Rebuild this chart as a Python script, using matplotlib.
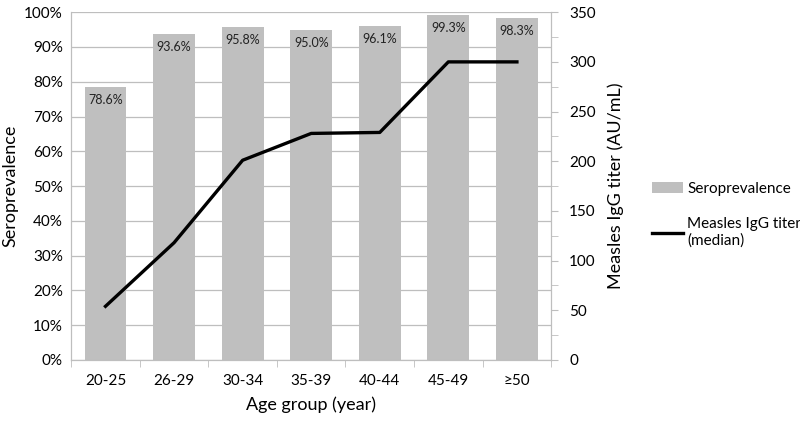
import matplotlib.pyplot as plt
import numpy as np
from matplotlib.ticker import PercentFormatter, MultipleLocator

plt.rcParams['font.family'] = ['Lato', 'DejaVu Sans']

age_groups = ["20-25", "26-29", "30-34", "35-39", "40-44", "45-49", "≥50"]
seroprevalence = [78.6, 93.6, 95.8, 95.0, 96.1, 99.3, 98.3]
igg_titer = [54, 118, 201, 228, 229, 300, 300]

grid_col = "#BEBEBE"
bar_col = "#BFBFBF"

fig = plt.figure(figsize=(8, 4.21), dpi=100)
ax = fig.add_axes([0.089, 0.145, 0.6, 0.826])
ax2 = ax.twinx()

x = np.arange(len(age_groups))
bars = ax.bar(x, seroprevalence, width=0.61, color=bar_col, zorder=2, label="Seroprevalence")
for xi, v in zip(x, seroprevalence):
    ax.text(xi, v - 2.0, f"{v:.1f}%", ha="center", va="top", fontsize=9, color="#222222", zorder=3)

line, = ax2.plot(x, igg_titer, color="black", linewidth=2.4, label="Measles IgG titer\n(median)")

ax.set_xlim(-0.5, len(age_groups) - 0.5)
ax.set_ylim(0, 100)
ax.yaxis.set_major_locator(MultipleLocator(10))
ax.yaxis.set_major_formatter(PercentFormatter(decimals=0))
ax.grid(axis="y", color=grid_col, linewidth=0.9, zorder=0)
ax.set_axisbelow(True)
ax.set_xticks(x)
ax.set_xticklabels(age_groups)
ax.set_xticks(np.arange(-0.5, len(age_groups)), minor=True)
ax.tick_params(axis="x", which="major", length=0, pad=10, labelsize=11)
ax.tick_params(axis="x", which="minor", length=5, color=grid_col)
ax.tick_params(axis="y", length=0, labelsize=11, pad=6)

ax2.set_ylim(0, 350)
ax2.yaxis.set_major_locator(MultipleLocator(50))
ax2.yaxis.set_minor_locator(MultipleLocator(25))
ax2.tick_params(axis="y", which="both", length=5, color=grid_col, labelsize=11, pad=8)

for a in (ax, ax2):
    for s in a.spines.values():
        s.set_color(grid_col)
    a.spines["top"].set_visible(False)

ax.set_xlabel("Age group (year)", fontsize=13, labelpad=6)
ax.set_ylabel("Seroprevalence", fontsize=13, labelpad=4)
ax2.set_ylabel("Measles IgG titer (AU/mL)", fontsize=13, labelpad=8)

fig.legend(handles=[bars, line], loc="center left", bbox_to_anchor=(0.815, 0.49),
           frameon=False, fontsize=11, handlelength=2.0, handletextpad=0.3, labelspacing=1.4,
           borderpad=0, borderaxespad=0)

fig.savefig("out.png", dpi=100)
